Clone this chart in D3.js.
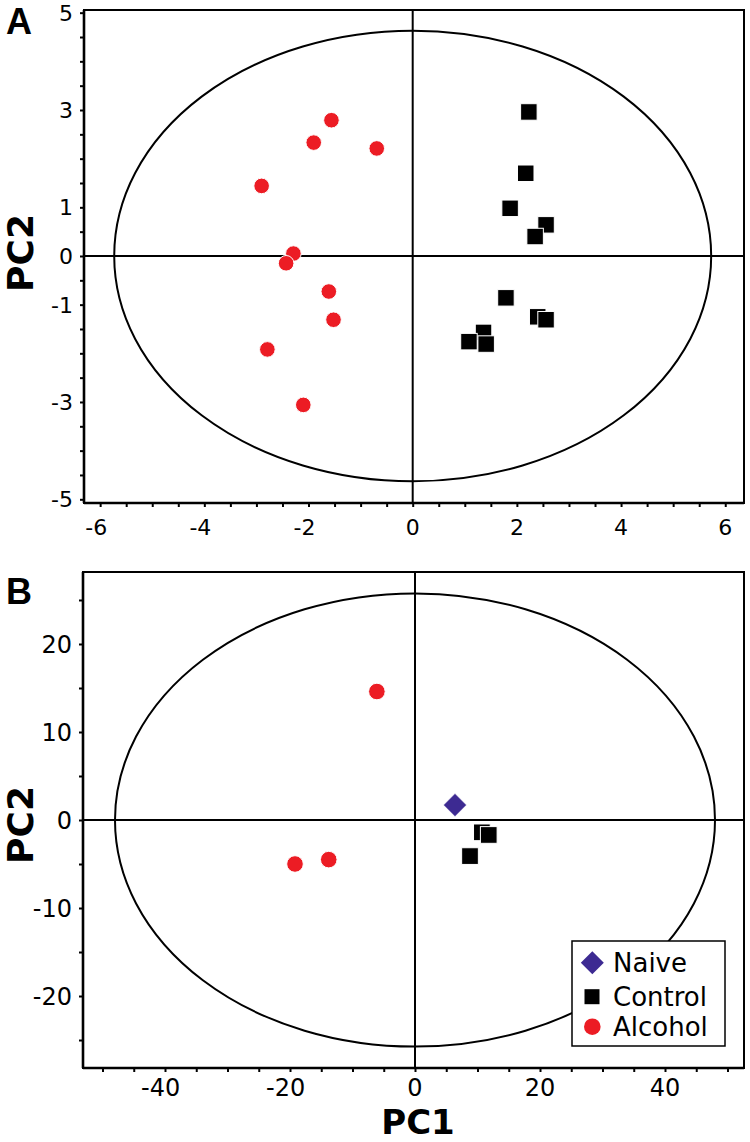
<!DOCTYPE html>
<html>
<head>
<meta charset="utf-8">
<script src="https://cdn.jsdelivr.net/npm/d3@7"></script>
<style>
  html, body { margin: 0; padding: 0; background: #fff; }
  svg { display: block; }
</style>
</head>
<body>
<svg id="chart" width="750" height="1142"></svg>
<script>
// ---------------- DATA ----------------
// Panel A (PC1 / PC2 scores)
const alcoholA = [
  [-2.90, 1.44], [-1.56, 2.79], [-1.90, 2.33], [-0.69, 2.21],
  [-2.29, 0.05], [-2.43, -0.15], [-1.61, -0.73], [-1.52, -1.31],
  [-2.79, -1.92], [-2.10, -3.06]
];
const controlA = [
  [2.23, 2.96], [2.17, 1.70], [1.87, 0.98], [2.56, 0.64], [2.35, 0.40],
  [1.79, -0.86], [2.40, -1.25], [2.56, -1.31], [1.36, -1.57],
  [1.08, -1.76], [1.41, -1.81]
];
const ellipseA = [5.73, 4.63];
const xTicksA = d3.range(-6, 6.01, 0.5);
const yTicksA = d3.range(-5, 5.01, 0.5);
const xLabelsA = [-6, -4, -2, 0, 2, 4, 6];
const yLabelsA = [-5, -3, -1, 0, 1, 3, 5];

// Panel B
const naiveB = [[6.4, 1.7]];
const controlB = [[10.7, -1.4], [11.8, -1.7], [8.8, -4.1]];
const alcoholB = [[-6.1, 14.6], [-19.2, -5.0], [-13.8, -4.5]];
const ellipseB = [48, 25.75];
const xTicksB = d3.range(-50, 50.01, 5);
const yTicksB = d3.range(-25, 25.01, 5);
const xLabelsB = [-40, -20, 0, 20, 40];
const yLabelsB = [-20, -10, 0, 10, 20];

const legendItems = ["Naive", "Control", "Alcohol"];

// ---------------- STYLE ----------------
const RED = "#ec1c24";
const BLACK = "#000";
const PURPLE = "#3d2a92";
const FONT = "'DejaVu Sans', Verdana, sans-serif";

const svg = d3.select("#chart");

function panel(cfg) {
  const x = d3.scaleLinear().domain(cfg.xDomain).range(cfg.xRange);
  const y = d3.scaleLinear().domain(cfg.yDomain).range(cfg.yRange);
  const g = svg.append("g");
  const [x0, x1] = cfg.xRange;
  const [y1, y0] = cfg.yRange; // y1 bottom, y0 top

  // bottom axis ticks
  g.append("g")
    .attr("transform", `translate(0,${y1})`)
    .call(d3.axisBottom(x).tickValues(cfg.xTicks).tickSize(4).tickSizeOuter(0).tickFormat(""))
    .call(a => a.select(".domain").remove())
    .call(a => a.selectAll("line").attr("stroke", "#000").attr("stroke-width", 2));
  // left axis ticks
  g.append("g")
    .attr("transform", `translate(${x0},0)`)
    .call(d3.axisLeft(y).tickValues(cfg.yTicks).tickSize(4).tickSizeOuter(0).tickFormat(""))
    .call(a => a.select(".domain").remove())
    .call(a => a.selectAll("line").attr("stroke", "#000").attr("stroke-width", 2));

  // box
  g.append("rect")
    .attr("x", x0).attr("y", y0)
    .attr("width", x1 - x0).attr("height", y1 - y0)
    .attr("fill", "none").attr("stroke", "#000").attr("stroke-width", 2);
  g.append("line").attr("x1", x0).attr("x2", x0).attr("y1", y0).attr("y2", y1)
    .attr("stroke", "#000").attr("stroke-width", 2.6);
  g.append("line").attr("x1", x0).attr("x2", x1).attr("y1", y1).attr("y2", y1)
    .attr("stroke", "#000").attr("stroke-width", 2.6);

  // crosshair
  g.append("line").attr("x1", x(0)).attr("x2", x(0)).attr("y1", y0).attr("y2", y1)
    .attr("stroke", "#000").attr("stroke-width", 2);
  g.append("line").attr("x1", x0).attr("x2", x1).attr("y1", y(0)).attr("y2", y(0))
    .attr("stroke", "#000").attr("stroke-width", 2);

  // ellipse
  g.append("ellipse")
    .attr("cx", x(0)).attr("cy", y(0))
    .attr("rx", x(cfg.ellipse[0]) - x(0))
    .attr("ry", y(0) - y(cfg.ellipse[1]))
    .attr("fill", "none").attr("stroke", "#000").attr("stroke-width", 2);

  // x labels: digits centered on tick, minus hangs left
  const fs = cfg.tickFont;
  g.selectAll(".xl").data(cfg.xLabels).enter().append("text")
    .attr("x", d => x(d) + String(Math.abs(d)).length * 0.636 * fs / 2)
    .attr("y", cfg.xLabelY)
    .attr("text-anchor", "end")
    .attr("font-family", FONT).attr("font-size", fs).attr("fill", "#000")
    .text(d => String(d));
  // y labels
  g.selectAll(".yl").data(cfg.yLabels).enter().append("text")
    .attr("x", x0 - 11)
    .attr("y", d => y(d))
    .attr("dy", "0.36em")
    .attr("text-anchor", "end")
    .attr("font-family", FONT).attr("font-size", fs).attr("fill", "#000")
    .text(d => String(d));

  // panel letter
  g.append("text").attr("x", 6).attr("y", cfg.letterY)
    .attr("font-family", "'Liberation Sans', Arial, sans-serif")
    .attr("font-weight", "bold").attr("font-size", 36).attr("fill", "#000")
    .text(cfg.letter);
  // PC2 label
  g.append("text")
    .attr("transform", `translate(33,${cfg.pc2Y}) rotate(-90)`)
    .attr("text-anchor", "middle")
    .attr("font-family", FONT).attr("font-weight", "bold").attr("font-size", 36)
    .attr("fill", "#000")
    .text("PC2");

  return { g, x, y };
}

function drawCircles(p, data, r) {
  p.g.append("g").selectAll("circle").data(data).enter().append("circle")
    .attr("cx", d => p.x(d[0])).attr("cy", d => p.y(d[1])).attr("r", r)
    .attr("fill", RED).attr("stroke", "#fff").attr("stroke-width", 1);
}
function drawSquares(p, data, s) {
  p.g.append("g").selectAll("rect").data(data).enter().append("rect")
    .attr("x", d => p.x(d[0]) - s / 2).attr("y", d => p.y(d[1]) - s / 2)
    .attr("width", s).attr("height", s)
    .attr("fill", BLACK).attr("stroke", "#fff").attr("stroke-width", 1);
}
function drawDiamonds(p, data, h) {
  p.g.append("g").selectAll("path").data(data).enter().append("path")
    .attr("d", d => {
      const cx = p.x(d[0]), cy = p.y(d[1]);
      return `M${cx},${cy - h}L${cx + h},${cy}L${cx},${cy + h}L${cx - h},${cy}Z`;
    })
    .attr("fill", PURPLE).attr("stroke", "#fff").attr("stroke-width", 1);
}

// ---------------- PANEL A ----------------
const pA = panel({
  xDomain: [-6.31, 6.36], xRange: [84, 744],
  yDomain: [-5.076, 5.055], yRange: [503, 10],
  xTicks: xTicksA, yTicks: yTicksA,
  xLabels: xLabelsA, yLabels: yLabelsA,
  ellipse: ellipseA, tickFont: 22, xLabelY: 535,
  letter: "A", letterY: 34, pc2Y: 253
});
drawCircles(pA, alcoholA, 7.8);
drawSquares(pA, controlA, 16.5);

// ---------------- PANEL B ----------------
const pB = panel({
  xDomain: [-53.12, 52.64], xRange: [83, 744],
  yDomain: [-28.18, 28.18], yRange: [1068, 572],
  xTicks: xTicksB, yTicks: yTicksB,
  xLabels: xLabelsB, yLabels: yLabelsB,
  ellipse: ellipseB, tickFont: 24, xLabelY: 1096,
  letter: "B", letterY: 604, pc2Y: 825
});
drawCircles(pB, alcoholB, 8.3);
drawSquares(pB, controlB, 16.7);
drawDiamonds(pB, naiveB, 11.7);

// legend
const lg = pB.g.append("g");
lg.append("rect").attr("x", 572).attr("y", 941).attr("width", 153).attr("height", 105)
  .attr("fill", "#fff").attr("stroke", "#000").attr("stroke-width", 1.5);
const rowY = [962.7, 996.7, 1026.7];
lg.append("path")
  .attr("d", `M592.3,${rowY[0] - 11.5}L${592.3 + 11.5},${rowY[0]}L592.3,${rowY[0] + 11.5}L${592.3 - 11.5},${rowY[0]}Z`)
  .attr("fill", PURPLE);
lg.append("rect").attr("x", 592 - 7.5).attr("y", rowY[1] - 7.5).attr("width", 15).attr("height", 15)
  .attr("fill", BLACK);
lg.append("circle").attr("cx", 592.3).attr("cy", rowY[2]).attr("r", 8.3).attr("fill", RED);
lg.selectAll(".lt").data(legendItems).enter().append("text")
  .attr("x", 613).attr("y", (d, i) => rowY[i]).attr("dy", "0.36em")
  .attr("font-family", FONT).attr("font-size", 26).attr("fill", "#000")
  .text(d => d);

// PC1 label
svg.append("text").attr("x", 418).attr("y", 1134)
  .attr("text-anchor", "middle")
  .attr("font-family", FONT).attr("font-weight", "bold").attr("font-size", 34)
  .attr("fill", "#000").text("PC1");
</script>
</body>
</html>
